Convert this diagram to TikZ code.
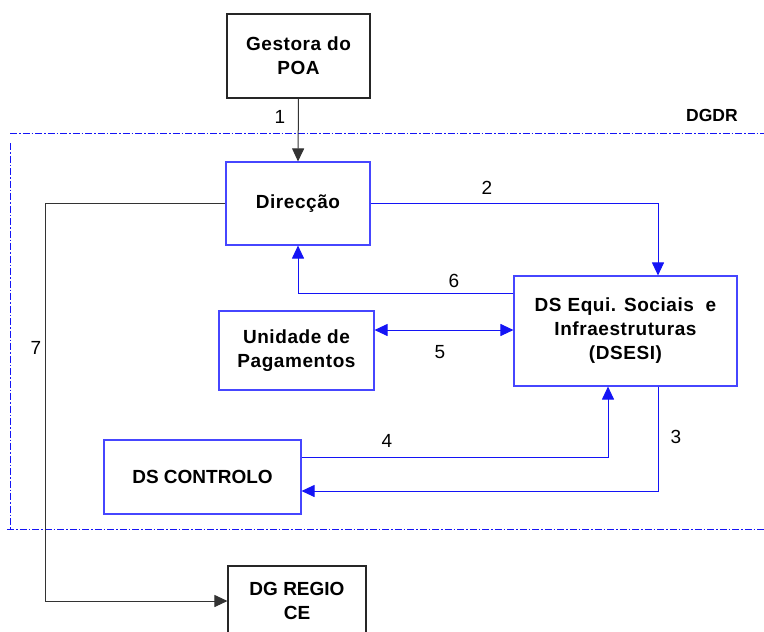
\documentclass[tikz,border=0pt]{standalone}
\usepackage{fontspec}
\setmainfont{Liberation Sans}
\newfontfamily\boxfont[LetterSpace=3]{Liberation Sans}
\usetikzlibrary{arrows.meta,calc}
\definecolor{boxblue}{RGB}{70,70,255}
\definecolor{lineblue}{RGB}{20,20,245}
\begin{document}
\begin{tikzpicture}[x=1pt,y=-1pt,
  >={Triangle[length=13pt,width=12pt]},
  box/.style={draw,line width=1.1pt,align=center,inner sep=0pt,
    font=\boxfont\fontsize{19}{24}\selectfont\bfseries},
  bluebox/.style={box,draw=boxblue},
  blackbox/.style={box,draw=black!85},
  bl/.style={draw=lineblue,line width=1pt,->},
  bk/.style={draw=black!80,line width=1pt},
  num/.style={font=\fontsize{19}{21}\selectfont},
  frame/.style={draw=lineblue,line width=0.8pt,dash pattern=on 7pt off 2pt on 1.5pt off 2pt}]
\useasboundingbox (0,0) rectangle (764,632);
\clip (0,0) rectangle (764,632);
% frame
\draw[frame] (10,133) -- (764,133);
\draw[frame] (10,143) -- (10,529);
\draw[frame] (7,529) -- (764,529);
\node[font=\fontsize{17.5}{20}\selectfont\bfseries] (dgdr) at (712,115) {DGDR};
% boxes
\node[blackbox,minimum width=143pt,minimum height=84pt] (gest) at (298.5,56) {Gestora do\\POA};
\node[bluebox,minimum width=144pt,minimum height=83pt] (dir) at (298,203.5) {Direcção};
\node[bluebox,minimum width=223pt,minimum height=110pt] (dsesi) at (625.5,331) {DS Equi. Sociais\ \ e\\Infraestruturas\\(DSESI)};
\node[bluebox,minimum width=155pt,minimum height=79pt] (unid) at (296.5,350.5) {Unidade de\\Pagamentos};
\node[bluebox,minimum width=197pt,minimum height=74pt,font=\fontsize{19}{24}\selectfont\bfseries] (ctrl) at (202.5,477) {DS CONTROLO};
\node[blackbox,minimum width=138pt,minimum height=70pt,font=\fontsize{19}{24}\selectfont\bfseries] (dgr) at (297,601) {DG REGIO\\CE};
% connectors
\draw[bk,->] (gest.south) -- (dir.north);
\draw[bl] (dir.east) -| ([xshift=32.5pt]dsesi.north);
\draw[bl] ([yshift=38pt]dsesi.west) -| (dir.south);
\coordinate (p5) at ([yshift=20.5pt]unid.east);
\draw[bl,<->] (p5) -- (p5 -| dsesi.west);
\coordinate (p4) at ([yshift=20pt]ctrl.east);
\draw[bl] (p4) -| ([xshift=-17.5pt]dsesi.south);
\draw[bl] ([xshift=32.5pt]dsesi.south) |- ([yshift=-14pt]ctrl.east);
\coordinate (c7) at (45,203.5);
\draw[bk,->] (dir.west) -- (c7) |- (dgr.west);
% labels
\node[num] (l1) at (280,117) {1};
\node[num] (l2) at (487,188) {2};
\node[num] (l6) at (454,281) {6};
\node[num] (l5) at (440,352) {5};
\node[num] (l4) at (387,441) {4};
\node[num] (l3) at (676,437) {3};
\node[num] (l7) at (36,348) {7};
\end{tikzpicture}
\end{document}
